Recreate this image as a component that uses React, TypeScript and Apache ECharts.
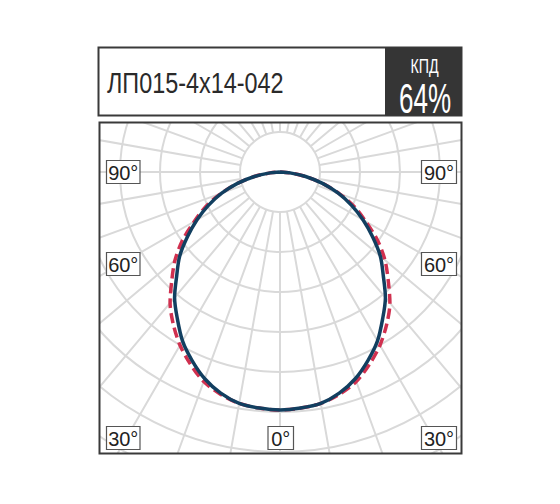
import React, { useEffect, useRef } from "react";
import * as echarts from "echarts";

// Photometric curve: angle from nadir (deg) and luminous intensity (cd/klm)
const ANGLES = [0, 5, 10, 15, 20, 25, 30, 35, 40, 45, 50, 55, 60, 65, 70, 75, 80, 85, 90];
const C0_VALUES = [238, 237, 235, 229, 220, 208, 195, 179, 164, 146, 131, 113, 96, 79, 62, 44, 26, 10, 0];
const C90_VALUES = [238, 237, 235, 230, 223, 212, 200, 186, 171, 153, 137, 119, 99, 82, 63, 44, 26, 10, 0];

const RADIUS_LABELS = [80, 120, 160, 200];
const TITLE = "ЛП015-4x14-042";
const KPD_LABEL = "КПД";
const KPD_VALUE = "64%";
const ANGLE_TEXTS = ["90°", "60°", "30°", "0°", "90°", "60°", "30°"];

const CENTER: [number, number] = [280, 172];
const GRID_COLOR = "#d9d9d9";
const FONT = "'Liberation Sans', Arial, sans-serif";

function buildCurve(values: number[]) {
  const right = ANGLES.map((a, i) => [values[i], -a]).reverse();
  const left = ANGLES.slice(1).map((a, i) => [values[i + 1], a]);
  return [...right, ...left];
}

export default function App() {
  const ref = useRef<HTMLDivElement>(null);

  useEffect(() => {
    if (!ref.current) return;
    const chart = echarts.init(ref.current, null, { renderer: "svg" });

    const boxes = [
      [106.5, 160.5, 140, 183.5],
      [106.5, 252.5, 140, 275.5],
      [106.5, 426.5, 140, 449.5],
      [268, 426.5, 293.5, 449.5],
      [421.5, 160.5, 456.5, 183.5],
      [421.5, 252.5, 456.5, 275.5],
      [421.5, 426.5, 456.5, 449.5],
    ];

    const graphics: any[] = [
      // white covers clipping the polar grid to the frame
      { type: "rect", z: 10, shape: { x: 0, y: 0, width: 560, height: 122 }, style: { fill: "#fff" } },
      { type: "rect", z: 10, shape: { x: 0, y: 454, width: 560, height: 50 }, style: { fill: "#fff" } },
      { type: "rect", z: 10, shape: { x: 0, y: 0, width: 99.5, height: 504 }, style: { fill: "#fff" } },
      { type: "rect", z: 10, shape: { x: 461.5, y: 0, width: 98.5, height: 504 }, style: { fill: "#fff" } },
      // chart frame
      { type: "rect", z: 11, shape: { x: 99.5, y: 122.5, width: 362, height: 331 }, style: { fill: "none", stroke: "#3a3a3a", lineWidth: 2 } },
      // header
      { type: "rect", z: 11, shape: { x: 98.5, y: 47.5, width: 363, height: 68 }, style: { fill: "#fff", stroke: "#3a3a3a", lineWidth: 2 } },
      { type: "rect", z: 12, shape: { x: 385, y: 47.5, width: 76.5, height: 68 }, style: { fill: "#353535" } },
      {
        type: "text", z: 13, x: 107, y: 82.5, scaleX: 0.78,
        style: { text: TITLE, fill: "#2a2a2a", font: `30px ${FONT}`, textAlign: "left", textVerticalAlign: "middle" },
      },
      {
        type: "text", z: 13, x: 424.5, y: 66, scaleX: 0.68,
        style: { text: KPD_LABEL, fill: "#fff", font: `21px ${FONT}`, textAlign: "center", textVerticalAlign: "middle" },
      },
      {
        type: "text", z: 13, x: 425, y: 97.5, scaleX: 0.62,
        style: { text: KPD_VALUE, fill: "#fff", font: `42px ${FONT}`, textAlign: "center", textVerticalAlign: "middle" },
      },
    ];

    boxes.forEach((b, i) => {
      graphics.push({
        type: "rect", z: 11,
        shape: { x: b[0], y: b[1], width: b[2] - b[0], height: b[3] - b[1] },
        style: { fill: "#fff", stroke: "#555", lineWidth: 1.2 },
      });
      graphics.push({
        type: "text", z: 12, x: (b[0] + b[2]) / 2, y: (b[1] + b[3]) / 2 + 0.5,
        style: { text: ANGLE_TEXTS[i], fill: "#222", font: `20px ${FONT}`, textAlign: "center", textVerticalAlign: "middle" },
      });
    });

    chart.setOption({
      animation: false,
      backgroundColor: "#fff",
      polar: [
        { center: CENTER, radius: [40, 340] },
        { center: CENTER, radius: [0, 340] },
      ],
      angleAxis: [
        {
          polarIndex: 0, type: "value", min: -180, max: 180, interval: 10, startAngle: 90,
          axisLine: { show: false }, axisTick: { show: false }, axisLabel: { show: false },
          splitLine: { show: true, lineStyle: { color: GRID_COLOR, width: 2 } },
        },
        { polarIndex: 1, type: "value", min: -180, max: 180, startAngle: 90, show: false },
      ],
      radiusAxis: [
        { polarIndex: 0, type: "value", min: 0, max: 1, show: false },
        {
          polarIndex: 1, type: "value", min: 0, max: 340, interval: 40,
          axisLine: { show: false }, axisTick: { show: false }, axisLabel: { show: false },
          splitLine: { show: true, lineStyle: { color: GRID_COLOR, width: 2 } },
        },
      ],
      series: [
        {
          name: "C90", type: "line", coordinateSystem: "polar", polarIndex: 1,
          data: buildCurve(C90_VALUES), smooth: 0.3, symbol: "none", z: 3,
          lineStyle: { color: "#d0304f", width: 3.5, type: [10, 5] },
        },
        {
          name: "C0", type: "line", coordinateSystem: "polar", polarIndex: 1,
          data: buildCurve(C0_VALUES), smooth: 0.3, symbol: "none", z: 4,
          lineStyle: { color: "#123f60", width: 3.5 },
        },
        {
          name: "labels", type: "scatter", coordinateSystem: "polar", polarIndex: 1,
          data: RADIUS_LABELS.map((r) => [r, 0]), symbolSize: 1, z: 5,
          itemStyle: { opacity: 0 },
          label: {
            show: true, position: "inside", formatter: (p: any) => String(p.value[0]),
            fontSize: 18, fontFamily: FONT, color: "#222", backgroundColor: "#fff", padding: [0, 1],
          },
        },
      ],
      graphic: { elements: graphics },
    });

    return () => chart.dispose();
  }, []);

  return <div ref={ref} style={{ position: "absolute", left: 0, top: 0, width: 560, height: 504 }} />;
}
